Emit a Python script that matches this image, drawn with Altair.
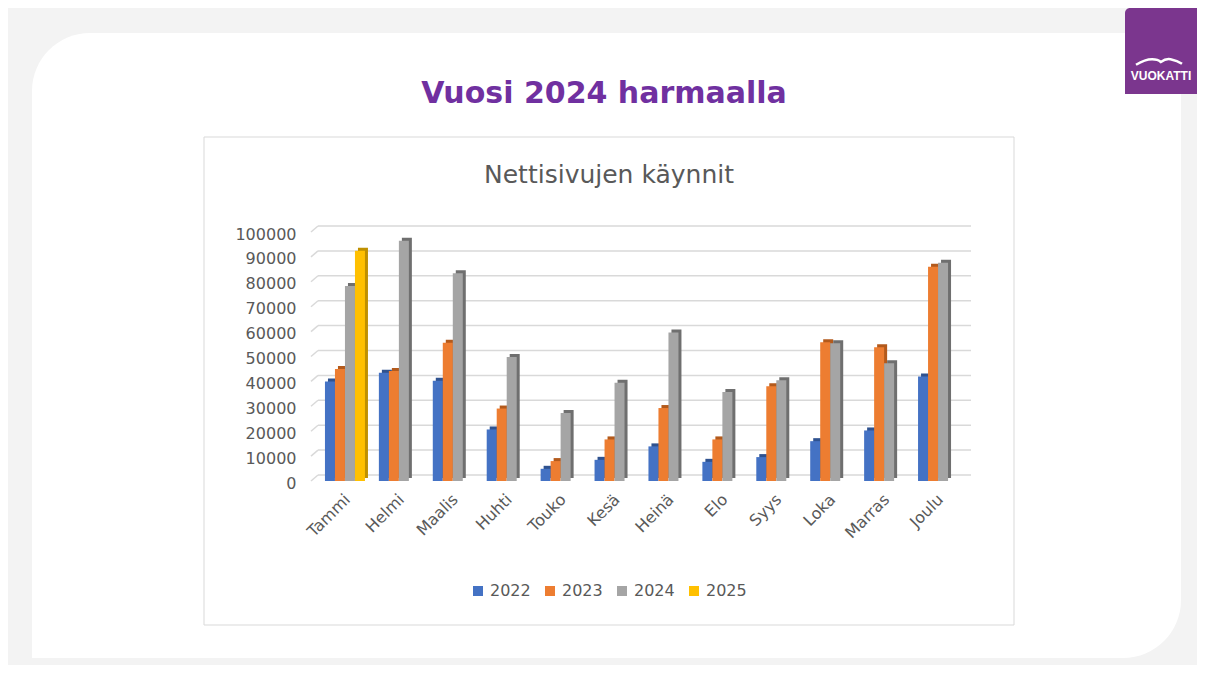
import altair as alt
import pandas as pd

months = ["Tammi", "Helmi", "Maalis", "Huhti", "Touko", "Kesä", "Heinä",
          "Elo", "Syys", "Loka", "Marras", "Joulu"]
years = ["2022", "2023", "2024", "2025"]
v2022 = [40000, 43500, 40300, 20700, 4900, 8500, 13900, 7700, 9600, 16000, 20300, 42000]
v2023 = [45000, 44200, 55500, 29100, 8000, 16700, 29300, 16700, 38100, 55700, 53700, 86000]
v2024 = [78300, 96500, 83400, 49800, 27300, 39500, 59600, 35700, 40500, 55300, 47300, 87700]
v2025 = [92500, None, None, None, None, None, None, None, None, None, None, None]
y_ticks = list(range(0, 100001, 10000))

front_colors = ["#4472c4", "#ed7d31", "#a5a5a5", "#ffc000"]
side_colors = ["#2f528f", "#b35a1c", "#6f6f6f", "#bf9000"]

rows = []
for yr, vals in zip(years, [v2022, v2023, v2024, v2025]):
    for m, v in zip(months, vals):
        if v is not None:
            rows.append({"month": m, "year": yr, "value": v})
df = pd.DataFrame(rows)
grid_df = pd.DataFrame({"value": y_ticks})
one = pd.DataFrame({"a": [0]})

GRAY = "#595959"
W, H = 647, 249
TOTAL_W, TOTAL_H = 1189, 657
PAD_L, PAD_T = 310, 224

X = alt.X("month:N", sort=months,
          scale=alt.Scale(domain=months, paddingInner=0.258, paddingOuter=0.129),
          axis=alt.Axis(title=None, labelAngle=-45, labelFont="DejaVu Sans",
                        labelFontSize=16, labelColor=GRAY, domain=False,
                        ticks=False, labelPadding=10, labelOffset=-3, zindex=1))
Y = alt.Y("value:Q", scale=alt.Scale(domain=[0, 100000], nice=False),
          axis=alt.Axis(title=None, values=y_ticks, format="d", grid=False,
                        domain=False, ticks=False, labelPadding=22, labelOffset=2,
                        labelFont="DejaVu Sans", labelFontSize=16,
                        labelColor=GRAY, zindex=1))
legend = alt.Legend(title=None, orient="none", legendX=152, legendY=351,
                    direction="horizontal", symbolType="square", symbolSize=100,
                    labelFont="DejaVu Sans", labelFontSize=16, labelColor=GRAY,
                    columnPadding=11, labelOffset=4, padding=0, zindex=1)
COLOR = alt.Color("year:N", scale=alt.Scale(domain=years, range=front_colors),
                  legend=legend)

# decorations
panel = alt.Chart(one).mark_rect(color="white", cornerRadiusTopLeft=58,
                                 cornerRadiusBottomRight=58).encode(
    x=alt.value(-286), x2=alt.value(863), y=alt.value(-199), y2=alt.value(426))
frame = alt.Chart(one).mark_rect(fill="white", stroke="#d9d9d9", strokeWidth=1).encode(
    x=alt.value(-114), x2=alt.value(696), y=alt.value(-95), y2=alt.value(393))
logo = alt.Chart(one).mark_rect(color="#7b368e", cornerRadiusTopLeft=5).encode(
    x=alt.value(807), x2=alt.value(TOTAL_W - PAD_L), y=alt.value(-224), y2=alt.value(-138))
swoosh_path = ("M -1 0.12 Q -0.6 -0.12 -0.3 -0.12 Q -0.05 -0.12 0.08 0 "
               "Q 0.3 -0.16 0.5 -0.12 Q 0.8 -0.06 1 0.08")
swoosh = alt.Chart(one).mark_point(shape=swoosh_path, filled=False, stroke="white",
                                   strokeWidth=2.5, size=2116, opacity=1).encode(
    x=alt.value(841), y=alt.value(-170))
logo_text = alt.Chart(one).mark_text(text="VUOKATTI", color="white",
                                     font="Liberation Sans", fontWeight="bold",
                                     fontSize=12, align="center",
                                     baseline="alphabetic").encode(
    x=alt.value(843), y=alt.value(-152))
main_title = alt.Chart(one).mark_text(text="Vuosi 2024 harmaalla", font="DejaVu Sans",
                                      fontWeight="bold", fontSize=30, color="#7030a0",
                                      align="center", baseline="alphabetic").encode(
    x=alt.value(286), y=alt.value(-129.5))
chart_title = alt.Chart(one).mark_text(text="Nettisivujen käynnit", font="DejaVu Sans",
                                       fontSize=25, color=GRAY, align="center",
                                       baseline="alphabetic").encode(
    x=alt.value(291), y=alt.value(-48.7))

grid = alt.Chart(grid_df).mark_rule(color="#d9d9d9", strokeWidth=1.5, yOffset=-6).encode(
    y=Y, x=alt.value(0), x2=alt.value(653))
grid_slant = alt.Chart(grid_df).mark_rule(color="#d9d9d9", strokeWidth=1.5,
                                          y2Offset=-6).encode(
    y=Y, y2=alt.Y2("value"), x=alt.value(-7), x2=alt.value(0))

layers = [panel, frame, logo, swoosh, logo_text, main_title, chart_title, grid, grid_slant]

for k, yr in enumerate(years):
    off = (k - 1.5) * 10
    layers.append(
        alt.Chart(df).transform_filter(alt.datum.year == yr)
        .mark_bar(width=10, xOffset=off + 3, yOffset=-3, color=side_colors[k])
        .encode(x=X, y=Y)
    )
for k, yr in enumerate(years):
    off = (k - 1.5) * 10
    layers.append(
        alt.Chart(df).transform_filter(alt.datum.year == yr)
        .mark_bar(width=10, xOffset=off)
        .encode(x=X, y=Y, color=COLOR)
    )

chart = alt.layer(*layers).properties(
    width=W, height=H,
    padding={"left": PAD_L, "top": PAD_T, "right": TOTAL_W - PAD_L - W,
             "bottom": TOTAL_H - PAD_T - H},
    autosize="none",
).configure(background="#f3f3f3").configure_view(stroke=None)

chart.save("out.html", embed_options={"renderer": "svg", "actions": False})
